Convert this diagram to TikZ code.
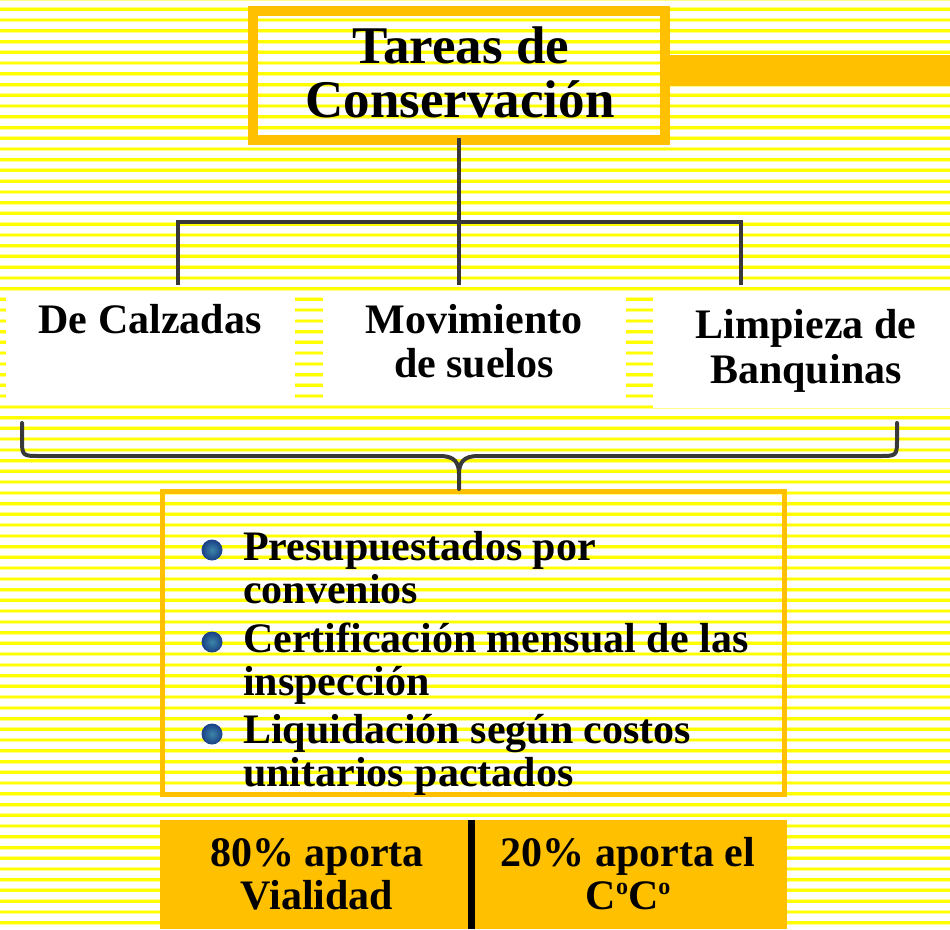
\documentclass[tikz,border=0pt]{standalone}
\usepackage{fontspec}
\setmainfont{Liberation Serif}
\definecolor{gold}{HTML}{FFC000}
\definecolor{stripecore}{HTML}{FFFF00}
\definecolor{stripeedge}{HTML}{FFFF8A}
\definecolor{linegray}{HTML}{383838}
\definecolor{bulletin}{HTML}{3C86A8}
\definecolor{bulletout}{HTML}{1A3F86}
\newcommand{\supo}{{\fontsize{24}{24}\selectfont\raisebox{15pt}{o}}}
\begin{document}
\begin{tikzpicture}[x=1pt,y=-1pt,
  bigtxt/.style={font=\fontsize{53}{54}\selectfont\bfseries, anchor=base, inner sep=0pt},
  txt/.style={font=\fontsize{42}{44}\selectfont\bfseries, anchor=base, inner sep=0pt},
  bultxt/.style={font=\fontsize{42}{44}\selectfont\bfseries, anchor=base west, inner sep=0pt},
  conn/.style={draw=linegray, line width=4pt},
  whitebox/.style={fill=white, anchor=north west, inner sep=0pt},
  goldbox/.style={fill=gold, anchor=north west, inner sep=0pt},
  bulletdot/.style={circle, minimum size=21pt, inner sep=0pt, inner color=bulletin, outer color=bulletout}]
\useasboundingbox (0,0) rectangle (950,929);
\fill[white] (0,0) rectangle (950,929);
% background stripes
\foreach \k in {-1,...,85}{
  \pgfmathsetmacro\yy{9.3+10.746*\k}
  \draw[stripeedge, line width=4pt] (0,\yy) -- (950,\yy);
  \draw[stripecore, line width=2.6pt] (0,\yy) -- (950,\yy);
}
% title
\node[goldbox, minimum width=280pt, minimum height=31pt] (bar) at (670,55) {};
\node[draw=gold, line width=10pt, minimum width=412pt, minimum height=129pt, inner sep=0pt] (title) at (459,75.5) {};
\node[bigtxt] (tt1) at (461,63) {Tareas de};
\node[bigtxt] (tt2) at (460,117) {Conservación};
% second level boxes
\node[whitebox, minimum width=289pt, minimum height=108pt] (b1) at (6,293) {};
\node[whitebox, minimum width=303pt, minimum height=105pt] (b2) at (323,293) {};
\node[whitebox, minimum width=297pt, minimum height=115pt] (b3) at (653,293) {};
\node[txt] (b1t) at (150,333) {De Calzadas};
\node[txt] (b2t1) at (474,333) {Movimiento};
\node[txt] (b2t2) at (474,377) {de suelos};
\node[txt] (b3t1) at (806,338) {Limpieza de};
\node[txt] (b3t2) at (806,383) {Banquinas};
% tree connector
\coordinate (jl) at (178,222);
\coordinate (jm) at (459,222);
\coordinate (jr) at (741,222);
\coordinate (el) at (178,285);
\coordinate (em) at (459,285);
\coordinate (er) at (741,285);
\draw[conn] ([yshift=7pt]title.south) -- (jm) -- (em);
\draw[conn] (el) -- (jl) -- (jr) -- (er);
% bullet box
\node[draw=gold, line width=5pt, minimum width=622pt, minimum height=303pt, inner sep=0pt] (bbox) at (473.5,643) {};
% brace
\coordinate (bl) at (22,423);
\coordinate (br) at (897,423);
\coordinate (bp) at (459,489);
\draw[conn, line cap=round] (bl) -- (22,438) .. controls (22,456) .. (40,456) -- (440,456)
   .. controls (454,456) and (459,462) .. (459,474) -- (bp);
\draw[conn, line cap=round] (br) -- (897,438) .. controls (897,456) .. (879,456) -- (478,456)
   .. controls (464,456) and (459,462) .. (459,474);
% bullets
\node[bulletdot] (d1) at (212,550) {};
\node[bulletdot] (d2) at (212,642) {};
\node[bulletdot] (d3) at (212,734) {};
\node[bultxt] (l1) at (243,560) {Presupuestados por};
\node[bultxt] (l2) at (243,603) {convenios};
\node[bultxt] (l3) at (243,652) {Certificación mensual de las};
\node[bultxt] (l4) at (243,695) {inspección};
\node[bultxt] (l5) at (243,743) {Liquidación según costos};
\node[bultxt] (l6) at (243,786) {unitarios pactados};
% bottom boxes
\node[goldbox, minimum width=311pt, minimum height=109pt] (v1) at (160,820) {};
\node[goldbox, minimum width=316pt, minimum height=109pt] (v2) at (471,820) {};
\draw[black, line width=7pt] (v1.north east) -- (v1.south east);
\node[txt] (v1t1) at (317,866) {80\% aporta};
\node[txt] (v1t2) at (317,909) {Vialidad};
\node[txt] (v2t1) at (628,866) {20\% aporta el};
\node[txt] (v2t2) at (628,909) {C\supo C\supo};
\end{tikzpicture}
\end{document}
